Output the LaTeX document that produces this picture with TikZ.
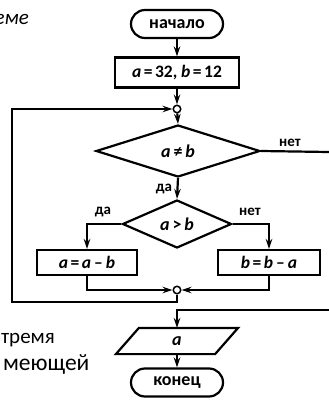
\documentclass[tikz,border=0pt]{standalone}
\usepackage{fontspec}
\setmainfont{Carlito}
\usetikzlibrary{shapes.geometric,arrows.meta,calc}
\newcommand\fsz[1]{\fontsize{#1}{#1}\selectfont}
\newcommand\eqs{\hspace{2.5pt}=\hspace{2.5pt}}
\newcommand\mns{\hspace{3pt}–\hspace{3pt}}
\begin{document}
\begin{tikzpicture}[x=1pt,y=-1pt,line width=2.2pt,
  term/.style={draw, rounded corners=14pt, minimum width=92pt, minimum height=28pt, inner sep=0pt, font=\fsz{18}\bfseries},
  proc/.style={draw, minimum height=30pt, inner sep=0pt, font=\fsz{17.5}\bfseries},
  dec/.style={draw, diamond, inner sep=0pt, font=\fsz{18}\bfseries},
  junc/.style={circle, draw, fill=white, minimum size=7.5pt, inner sep=0pt, line width=1.5pt},
  lbl/.style={inner sep=0pt, font=\fsz{15}\bfseries},
  frag/.style={inner sep=0pt, font=\fsz{21}},
  arr/.style={-{Stealth[length=10pt,width=6.5pt,inset=3.5pt]}}
]
\useasboundingbox (0,0) rectangle (329,400);
\clip (0,0) rectangle (329,400);

% fragments of surrounding text
\node[frag, anchor=base east] (f1) at (30,24) {\itshape еме};
\node[frag, anchor=base west] (f2) at (0,343) {тремя};
\node[frag, anchor=base west, font=\fsz{23.5}] (f3) at (2,370) {меющей};

% nodes
\node[term] (start) at (177,24) {начало};
\node[proc, minimum width=124pt] (init) at (177,72.5) {\textit{a}\eqs 32, \textit{b}\eqs 12};
\node[junc] (j1) at (177,109) {};
\node[dec, minimum width=164pt, minimum height=52pt] (d1) at (178,151) {\textit{a}\hspace{3pt}≠\hspace{3pt}\textit{b}};
\node[dec, minimum width=109pt, minimum height=48pt] (d2) at (177,224) {\textit{a}\hspace{3pt}>\hspace{3pt}\textit{b}};
\node[proc, minimum width=100pt, minimum height=25pt] (pl) at (87,262.5) {\textit{a}\eqs\textit{a}\mns\textit{b}};
\node[proc, minimum width=102pt, minimum height=25pt] (pr) at (269,262.5) {\textit{b}\eqs\textit{b}\mns\textit{a}};
\node[junc] (j2) at (177,290) {};
\node[inner sep=0pt, minimum width=97pt, minimum height=24pt, font=\fsz{18}\bfseries] (out) at (177,341) {\textit{a}};
\draw ($(out.north west)+(11.5,0)$) -- ($(out.north east)+(11.5,0)$) -- ($(out.south east)+(-11.5,0)$) -- ($(out.south west)+(-11.5,0)$) -- cycle;
\node[term] (end) at (177,382.5) {конец};

% labels
\node[lbl] (no1) at (290,143) {нет};
\node[lbl] (yes1) at (164,189) {да};
\node[lbl] (yes2) at (103,212) {да};
\node[lbl] (no2) at (250,212) {нет};

% coordinates
\coordinate (lb) at (12,302);
\coordinate (re1) at (329,152);
\coordinate (re2) at (329,310);

% connectors
\draw[arr] (start) -- (init);
\draw[arr] (init) -- (j1);
\draw[arr] (j1) -- (d1.north);
\draw[arr] (d1.south) -- (d2.north);
\draw[arr] (d2.west) -| (pl.north);
\draw[arr] (d2.east) -| (pr.north);
\draw[arr] (pl.south) |- (j2);
\draw[arr] (pr.south) |- (j2);
\draw[arr] (j2) |- (lb) |- (j1);
\draw (d1.east) -- (re1);
\draw[arr] (re2) -| (out.north);
\draw[arr] (out.south) -- (end.north);
\end{tikzpicture}
\end{document}
